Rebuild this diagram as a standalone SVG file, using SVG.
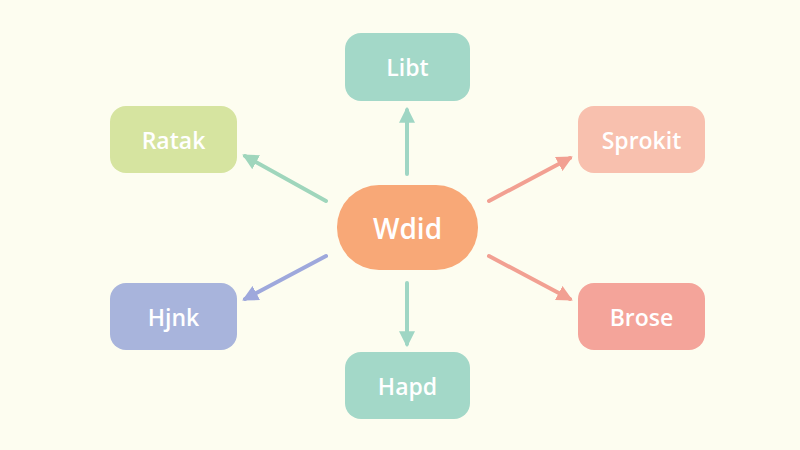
<svg xmlns="http://www.w3.org/2000/svg" width="800" height="450" viewBox="0 0 800 450">
<style>
.lbl{font-family:"Open Sans","Noto Sans",sans-serif;font-size:23px;font-weight:600;fill:#ffffff;text-anchor:middle;dominant-baseline:central}
.big{font-size:28px}
.c{stroke-width:4;fill:none;stroke-linecap:round}
</style>
<defs>
<marker id="mTeal" viewBox="0 0 10 10" refX="8" refY="5" markerWidth="4" markerHeight="4" orient="auto" markerUnits="strokeWidth"><path d="M0,0 L10,5 L0,10 z" fill="#9fd6c4"/></marker>
<marker id="mGreen" viewBox="0 0 10 10" refX="8" refY="5" markerWidth="4" markerHeight="4" orient="auto" markerUnits="strokeWidth"><path d="M0,0 L10,5 L0,10 z" fill="#9fd6bc"/></marker>
<marker id="mBlue" viewBox="0 0 10 10" refX="8" refY="5" markerWidth="4" markerHeight="4" orient="auto" markerUnits="strokeWidth"><path d="M0,0 L10,5 L0,10 z" fill="#9ea8dc"/></marker>
<marker id="mPink" viewBox="0 0 10 10" refX="8" refY="5" markerWidth="4" markerHeight="4" orient="auto" markerUnits="strokeWidth"><path d="M0,0 L10,5 L0,10 z" fill="#f2a092"/></marker>
</defs>
<rect width="800" height="450" fill="#fdfdf0"/>
<g id="connectors">
<line class="c" x1="407" y1="174" x2="407" y2="110" stroke="#9fd6c4" marker-end="url(#mTeal)"/>
<line class="c" x1="407" y1="283" x2="407" y2="344" stroke="#9fd6c4" marker-end="url(#mTeal)"/>
<line class="c" x1="326" y1="201" x2="245" y2="156" stroke="#9fd6bc" marker-end="url(#mGreen)"/>
<line class="c" x1="326" y1="256" x2="245" y2="299" stroke="#9ea8dc" marker-end="url(#mBlue)"/>
<line class="c" x1="489" y1="201" x2="570" y2="158" stroke="#f2a092" marker-end="url(#mPink)"/>
<line class="c" x1="489" y1="256" x2="570" y2="299" stroke="#f2a092" marker-end="url(#mPink)"/>
</g>
<g id="libt"><rect x="345" y="33" width="125" height="68" rx="16" fill="#a3d8c8"/><text class="lbl" x="407.5" y="67">Libt</text></g>
<g id="wdid"><rect x="337" y="185" width="141" height="85" rx="42" fill="#f8a877"/><text class="lbl big" x="407.5" y="227.5">Wdid</text></g>
<g id="ratak"><rect x="110" y="106" width="127" height="67" rx="16" fill="#d6e4a0"/><text class="lbl" x="173.5" y="139.5">Ratak</text></g>
<g id="sprokit"><rect x="578" y="106" width="127" height="67" rx="16" fill="#f8c0ae"/><text class="lbl" x="641.5" y="139.5">Sprokit</text></g>
<g id="hjnk"><rect x="110" y="283" width="127" height="67" rx="16" fill="#a8b4dc"/><text class="lbl" x="173.5" y="316.5">Hjnk</text></g>
<g id="brose"><rect x="578" y="283" width="127" height="67" rx="16" fill="#f4a49a"/><text class="lbl" x="641.5" y="316.5">Brose</text></g>
<g id="hapd"><rect x="345" y="352" width="125" height="67" rx="16" fill="#a3d8c8"/><text class="lbl" x="407.5" y="385.5">Hapd</text></g>
</svg>
